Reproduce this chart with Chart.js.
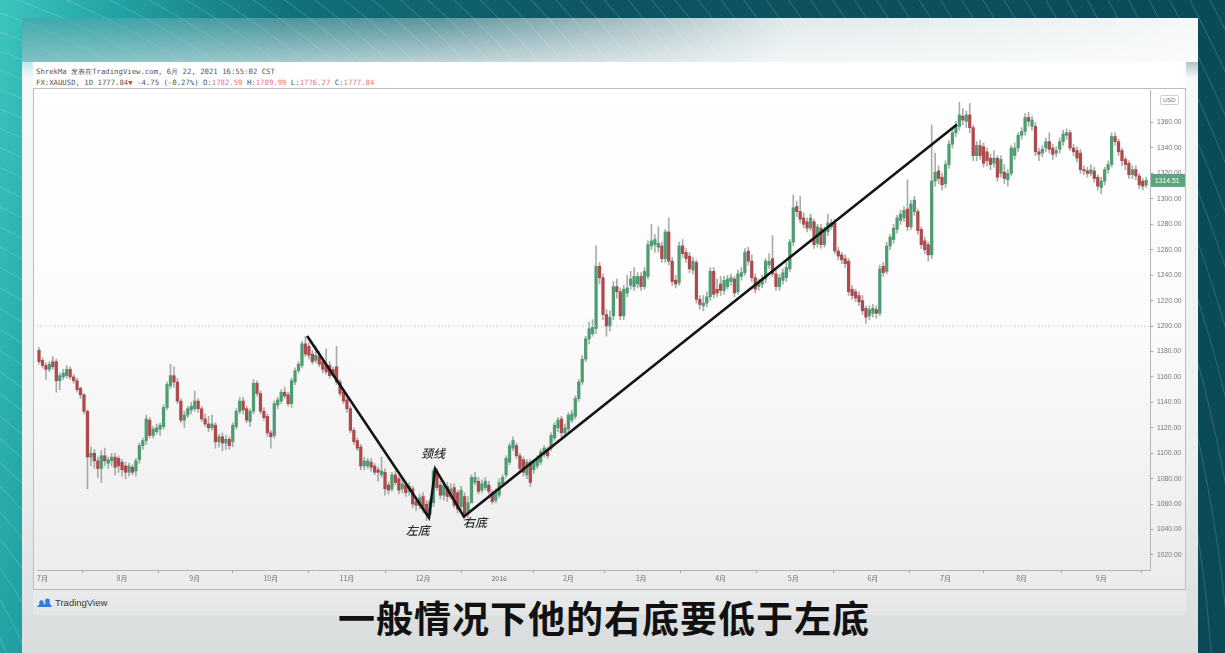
<!DOCTYPE html>
<html>
<head>
<meta charset="utf-8">
<title>XAUUSD 双底形态</title>
<style>
  html, body { margin: 0; padding: 0; }
  body {
    width: 1225px; height: 653px; overflow: hidden; position: relative;
    font-family: "Noto Sans CJK SC", "Noto Sans", sans-serif;
    background:
      repeating-radial-gradient(circle at -260px 760px, rgba(255,255,255,0) 0 16px, rgba(255,255,255,0.16) 17px, rgba(255,255,255,0) 18px),
      linear-gradient(100deg, #3cc5bf 0%, #22a2a4 9%, #11707a 22%, #0d5462 45%, #0b4956 100%);
  }
  #panel {
    position: absolute; left: 22px; top: 18px; width: 1176px; height: 640px;
    background: linear-gradient(to bottom, rgba(255,255,255,0.15) 0px, rgba(255,255,255,0.6) 40px, #f7f8f8 60px, #eef0f0 420px, #d9dcdc 640px);
  }
  #panelTop {
    position: absolute; left: 22px; top: 18px; width: 1176px; height: 44px;
    background: linear-gradient(90deg, rgba(20,120,130,0.35) 0%, rgba(255,255,255,0.2) 35%, rgba(255,255,255,0.85) 65%, rgba(255,255,255,0.95) 100%);
  }
  #widget {
    position: absolute; left: 33px; top: 62px; width: 1153px; height: 553px;
    background: linear-gradient(to bottom, #ffffff 0px, #fcfcfc 250px, #ececed 520px, #e4e6e6 553px);
  }
  .hdr {
    position: absolute; left: 3px; white-space: nowrap;
    font-family: "DejaVu Sans Mono", "Liberation Mono", monospace;
    font-size: 7.3px; line-height: 10px; color: #555;
  }
  #hdr1 { top: 5px; }
  #hdr2 { top: 16px; }
  .hdr .v { color: #e07580; }
  .hdr .dn { color: #e53935; }
  #pane {
    position: absolute; left: 0; top: 26px; width: 1153px; height: 502px;
    border: 1px solid #bdbdbd; box-sizing: border-box;
  }
  #chart { position: absolute; left: 0; top: 26px; }
  #usd {
    position: absolute; left: 1127px; top: 33px; padding: 0 2px;
    font-family: "Liberation Sans", sans-serif; font-size: 6px; line-height: 8px;
    color: #777; border: 1px solid #d0d0d0; border-radius: 2px; background: #fff;
  }
  #logo { position: absolute; left: 3px; top: 535px; height: 12px; white-space: nowrap; }
  #logo svg { position: absolute; left: 0; top: 1px; }
  #logo span {
    position: absolute; left: 19px; top: 0; font-family: "Liberation Sans", sans-serif;
    font-size: 9.5px; line-height: 12px; color: #3a3a3a;
  }
  #subtitle {
    position: absolute; left: 338px; top: 596px; white-space: nowrap;
    font-size: 37px; line-height: 42px; font-weight: bold; color: #111;
    letter-spacing: 1px;
  }
</style>
</head>
<body>
<div id="panel"></div>
<div id="panelTop"></div>
<div id="widget">
  <div class="hdr" id="hdr1">ShrekMa 发表在TradingView.com, 6月 22, 2021 16:55:02 CST</div>
  <div class="hdr" id="hdr2">FX:XAUUSD, 1D 1777.84<span class="dn">▼</span> -4.75 (-0.27%) O:<span class="v">1782.59</span> H:<span class="v">1789.99</span> L:<span class="v">1776.27</span> C:<span class="v">1777.84</span></div>
  <div id="pane"></div>
  <canvas id="chart" width="1153" height="502"></canvas>
  <div id="usd">USD</div>
  <div id="logo">
    <svg width="17" height="10" viewBox="0 0 17 10">
      <path d="M1 9 L5.5 3.5 L8.5 6.5 L11.5 1.5 L16 9 Z" fill="#2f7fe0"/>
      <circle cx="5.5" cy="4.5" r="2.2" fill="#2f7fe0"/>
      <circle cx="11.5" cy="3" r="2.4" fill="#2f7fe0"/>
    </svg>
    <span>TradingView</span>
  </div>
</div>
<div id="subtitle">一般情况下他的右底要低于左底</div>

<script src="https://cdn.jsdelivr.net/npm/chart.js"></script>
<script>
// daily XAUUSD candles, 2015-06-30 .. mid Sept 2016
const opens = [
  1181,1173,1169,1166,1172,1172,1157,1160,1161,1166,1160,1157,1151,1146,1133,1097,1100,1094,1088,1098,1092,1094,1097,
  1096,1093,1090,1085,1089,1086,1095,1106,1110,1126,1114,1117,1119,1121,1136,1153,1161,1156,1141,1126,1130,
  1134,1135,1141,1135,1127,1123,1120,1122,1109,1113,1108,1111,1109,1121,1133,1141,1135,1125,1133,1155,1147,1133,
  1129,1116,1114,1138,1141,1148,1146,1139,1156,1165,1169,1186,1184,1178,1173,1176,1172,1169,1169,1166,1168,1156,
  1148,1142,1135,1118,1110,1105,1090,1090,1093,1090,1087,1083,1085,1075,1072,1083,1080,1072,1075,1070,1072,1062,
  1059,1066,1060,1052,1061,1086,1075,1067,1074,1066,1073,1069,1058,1066,1053,1061,1077,1078,1071,1073,1075,1069,
  1063,1067,1076,1083,1093,1104,1106,1098,1095,1083,1093,1087,1090,1093,1099,1103,1104,1112,1120,1127,1116,
  1119,1126,1129,1143,1156,1174,1190,1194,1198,1247,1238,1209,1200,1208,1231,1227,1208,1226,1232,1231,1233,
  1239,1231,1239,1263,1264,1262,1263,1253,1274,1251,1236,1234,1263,1258,1255,1244,1250,1221,1216,1218,1223,1243,
  1229,1233,1228,1231,1235,1237,1227,1239,1242,1259,1251,1238,1231,1233,1237,1248,1253,1241,1231,1236,1238,1245,
  1266,1294,1290,1285,1282,1277,1282,1265,1277,1264,1274,1278,1281,1259,1256,1253,1251,1229,1227,1224,1220,1214,
  1208,1210,1213,1210,1247,1243,1263,1268,1276,1283,1285,1292,1278,1290,1290,1276,1267,1264,1256,1314,1322,
  1317,1312,1327,1343,1352,1357,1365,1361,1366,1356,1334,1342,1341,1337,1332,1328,1332,1320,1321,1315,
  1320,1334,1340,1350,1353,1364,1357,1357,1337,1336,1340,1345,1340,1336,1339,1345,1350,1352,1340,1338,
  1336,1323,1322,1320,1322,1317,1309,1314,1323,1327,1349,1345,1338,1331,1328,1319,1323,1318,1314,1311
];
const highs = [
  1183,1175,1171,1172,1176,1174,1163,1166,1169,1168,1162,1159,1152,1147,1134,1105,1103,1097,1102,1104,1097,1100,1100,
  1098,1095,1093,1092,1091,1096,1108,1112,1130,1128,1121,1123,1124,1138,1156,1170,1168,1159,1143,1133,1137,
  1140,1149,1143,1137,1131,1129,1130,1124,1115,1116,1114,1113,1124,1135,1144,1144,1137,1135,1158,1157,1149,1136,
  1131,1118,1141,1144,1150,1152,1148,1159,1167,1172,1188,1192,1187,1181,1184,1180,1174,1182,1172,1168,1184,1158,
  1150,1144,1137,1120,1112,1107,1097,1096,1096,1092,1089,1097,1088,1077,1085,1086,1082,1079,1077,1077,1074,1066,
  1068,1069,1063,1064,1088,1088,1078,1078,1077,1076,1076,1071,1074,1069,1066,1083,1085,1081,1079,1081,1078,1071,
  1072,1080,1083,1098,1108,1113,1108,1100,1097,1095,1095,1095,1098,1103,1106,1105,1116,1124,1128,1129,1123,
  1132,1134,1145,1158,1177,1192,1203,1205,1263,1250,1241,1213,1212,1235,1237,1230,1232,1240,1243,1246,1242,
  1242,1246,1267,1280,1272,1278,1266,1276,1285,1254,1240,1266,1268,1261,1258,1254,1252,1224,1224,1227,1246,1246,
  1237,1239,1239,1240,1241,1239,1244,1246,1261,1262,1256,1241,1237,1240,1253,1257,1271,1244,1241,1245,1250,1268,
  1303,1298,1302,1289,1285,1288,1284,1280,1280,1278,1288,1284,1284,1262,1258,1256,1253,1232,1229,1227,1224,1216,
  1216,1217,1216,1248,1250,1266,1272,1280,1287,1291,1294,1315,1299,1302,1292,1278,1270,1266,1358,1336,1326,
  1320,1330,1346,1355,1361,1376,1371,1369,1375,1358,1345,1346,1344,1340,1335,1338,1334,1334,1327,1323,
  1342,1344,1352,1356,1367,1368,1365,1360,1340,1342,1348,1352,1343,1341,1348,1354,1355,1354,1343,1341,
  1339,1326,1325,1327,1325,1319,1317,1325,1330,1352,1352,1347,1340,1333,1330,1326,1326,1320,1316,1317
];
const lows = [
  1170,1167,1158,1164,1166,1148,1150,1158,1159,1158,1155,1148,1143,1131,1072,1090,1088,1081,1077,1090,1088,1090,1083,
  1085,1082,1080,1082,1083,1082,1092,1103,1107,1112,1112,1115,1114,1119,1134,1151,1152,1139,1124,1120,1128,
  1131,1133,1132,1125,1121,1117,1118,1104,1105,1102,1103,1103,1105,1119,1131,1131,1124,1121,1131,1145,1131,1126,
  1113,1104,1112,1135,1139,1143,1137,1136,1154,1163,1167,1176,1174,1170,1171,1168,1163,1162,1159,1160,1154,1145,
  1139,1132,1116,1107,1102,1087,1087,1088,1086,1083,1078,1081,1067,1068,1070,1075,1068,1069,1066,1067,1057,1055,
  1056,1053,1047,1050,1058,1071,1064,1063,1062,1064,1057,1053,1055,1047,1049,1061,1075,1068,1069,1071,1068,1060,
  1061,1065,1074,1081,1091,1102,1096,1086,1082,1080,1074,1084,1088,1091,1097,1096,1102,1110,1117,1113,1113,
  1117,1124,1127,1141,1154,1172,1186,1192,1194,1233,1205,1192,1196,1205,1222,1205,1205,1223,1229,1228,1230,
  1228,1229,1237,1260,1258,1258,1250,1250,1248,1232,1230,1232,1254,1250,1242,1241,1218,1213,1212,1215,1220,1222,
  1223,1224,1225,1229,1232,1223,1225,1236,1240,1248,1235,1226,1228,1230,1234,1245,1239,1228,1228,1233,1235,1243,
  1263,1286,1281,1277,1274,1275,1261,1262,1261,1262,1271,1276,1257,1252,1249,1246,1224,1221,1219,1216,1209,1202,
  1205,1207,1206,1208,1239,1241,1260,1265,1273,1280,1282,1275,1276,1287,1272,1261,1257,1251,1253,1310,1312,
  1307,1309,1324,1340,1349,1354,1358,1356,1352,1330,1330,1331,1325,1326,1323,1325,1314,1317,1312,1310,
  1318,1331,1337,1347,1350,1357,1354,1334,1330,1333,1337,1336,1331,1333,1336,1342,1347,1338,1334,1329,
  1320,1319,1317,1318,1313,1307,1304,1311,1320,1325,1342,1334,1326,1323,1316,1316,1315,1308,1307,1309
];
const closes = [
  1172,1169,1166,1170,1168,1157,1161,1163,1166,1160,1157,1150,1146,1133,1097,1100,1094,1088,1098,1094,1095,1097,1089,
  1090,1087,1085,1090,1085,1094,1106,1110,1127,1114,1119,1120,1122,1136,1154,1161,1156,1141,1126,1130,1135,
  1137,1141,1135,1127,1123,1120,1123,1109,1113,1108,1111,1106,1122,1133,1141,1134,1126,1133,1155,1147,1133,1128,
  1116,1113,1139,1142,1148,1145,1139,1157,1165,1170,1186,1178,1177,1172,1177,1170,1166,1164,1161,1162,1156,1147,
  1141,1135,1118,1109,1104,1090,1094,1094,1089,1085,1085,1086,1072,1071,1083,1077,1071,1076,1069,1074,1060,1059,
  1065,1056,1052,1062,1086,1073,1067,1075,1066,1072,1059,1056,1071,1051,1061,1081,1081,1070,1076,1078,1070,1062,
  1069,1077,1081,1096,1106,1110,1098,1088,1085,1093,1077,1093,1096,1101,1104,1098,1114,1122,1126,1116,1120,
  1130,1131,1143,1156,1174,1190,1198,1199,1247,1238,1209,1200,1207,1231,1227,1208,1229,1230,1237,1239,1239,
  1231,1243,1264,1267,1268,1265,1253,1274,1251,1235,1233,1263,1257,1253,1245,1251,1221,1217,1218,1223,1243,1225,
  1226,1228,1236,1237,1238,1226,1241,1242,1258,1251,1238,1229,1234,1237,1251,1251,1241,1231,1238,1242,1246,1266,
  1293,1290,1284,1280,1277,1285,1264,1278,1264,1276,1281,1281,1259,1255,1252,1249,1227,1224,1222,1219,1212,1207,
  1213,1214,1210,1245,1242,1263,1270,1277,1285,1288,1291,1278,1296,1299,1275,1264,1260,1256,1314,1321,1316,
  1311,1327,1343,1352,1357,1366,1362,1366,1356,1334,1342,1334,1328,1330,1327,1332,1317,1331,1316,1320,
  1340,1340,1350,1353,1364,1361,1362,1337,1335,1339,1345,1339,1335,1338,1345,1351,1352,1340,1337,1332,
  1323,1322,1320,1323,1316,1310,1314,1323,1327,1349,1345,1337,1330,1327,1319,1323,1318,1311,1310,1314.51
];

// time axis: bar index of the first bar of each month
const monthTickBars   = [1, 24, 45, 67, 89, 111, 133, 153, 174, 197, 218, 241, 262, 284, 307];
const monthTickLabels = ['7月','8月','9月','10月','11月','12月','2016','2月','3月','4月','5月','6月','7月','8月','9月'];
const priceTicks = [1020,1040,1060,1080,1100,1120,1140,1160,1180,1200,1220,1240,1260,1280,1300,1320,1340,1360];

// hand-drawn double bottom: top, left bottom, neckline, right bottom, end of rise
const patternBars   = [77.5, 112.7, 114.5, 122.8, 265.3];
const patternPrices = [1192.2, 1049.4, 1087.8, 1050.2, 1358.4];
const levelPrice = 1200;

const noteTexts  = ['颈线', '左底', '右底'];
const noteBars   = [113.9, 109.5, 126.0];
const notePrices = [1099.6, 1039.2, 1045.5];

const UP = '#4f9c72';
const DOWN = '#ad4a4d';
const WICK = 'rgba(150,160,156,0.85)';
const X_MIN = -0.58, X_MAX = 321.1;
const Y_MIN = 1008.2, Y_MAX = 1385.6;

const n = closes.length;
const bodies = [], wicks = [], bodyColors = [];
for (let i = 0; i < n; i++) {
  bodies.push({ x: i, y: [opens[i], closes[i]] });
  wicks.push({ x: i, y: [lows[i], highs[i]] });
  bodyColors.push(closes[i] >= opens[i] ? UP : DOWN);
}

const overlay = {
  id: 'overlay',
  afterDatasetsDraw(chart) {
    const { ctx, chartArea, scales: { x, y } } = chart;
    ctx.save();
    // pattern labels
    ctx.fillStyle = '#2b2b2b';
    ctx.font = "italic 500 12px 'Noto Sans CJK SC'";
    ctx.textAlign = 'center';
    ctx.textBaseline = 'middle';
    for (let i = 0; i < noteTexts.length; i++) {
      ctx.fillText(noteTexts[i], x.getPixelForValue(noteBars[i]), y.getPixelForValue(notePrices[i]));
    }
    // last price tag on the price axis
    const last = closes[n - 1];
    const py = y.getPixelForValue(last);
    ctx.fillStyle = '#5aa67c';
    ctx.fillRect(chartArea.right + 1, py - 6.5, chart.width - chartArea.right - 2, 13);
    ctx.fillStyle = '#ffffff';
    ctx.font = "6.8px 'Liberation Sans'";
    ctx.textAlign = 'left';
    ctx.fillText(last.toFixed(2), chartArea.right + 5, py + 0.5);
    ctx.restore();
  }
};

new Chart(document.getElementById('chart'), {
  type: 'bar',
  data: {
    datasets: [
      {
        type: 'line', label: 'pattern',
        data: patternBars.map((b, i) => ({ x: b, y: patternPrices[i] })),
        borderColor: '#141414', borderWidth: 2.6, pointRadius: 0, order: 0
      },
      {
        type: 'line', label: 'level',
        data: [{ x: X_MIN, y: levelPrice }, { x: X_MAX, y: levelPrice }],
        borderColor: '#c2c2c2', borderWidth: 1, borderDash: [1, 2], pointRadius: 0, order: 1
      },
      {
        label: 'body', data: bodies, backgroundColor: bodyColors,
        barThickness: 2.6, minBarLength: 1, grouped: false, order: 2
      },
      {
        label: 'wick', data: wicks, backgroundColor: WICK,
        barThickness: 1, grouped: false, order: 3
      }
    ]
  },
  options: {
    responsive: false,
    animation: false,
    devicePixelRatio: 1,
    layout: { padding: { left: 4, top: 2, right: 0, bottom: 0 } },
    plugins: { legend: { display: false }, tooltip: { enabled: false } },
    scales: {
      x: {
        type: 'linear', min: X_MIN, max: X_MAX, offset: false,
        afterFit: s => { s.height = 20; s.paddingLeft = 0; s.paddingRight = 0; },
        afterBuildTicks: s => { s.ticks = monthTickBars.map(v => ({ value: v })); },
        ticks: {
          autoSkip: false, maxRotation: 0, padding: 1,
          color: '#707070', font: { size: 7, family: "'Noto Sans CJK SC'" },
          callback: (v, i) => monthTickLabels[i]
        },
        grid: { drawOnChartArea: false, tickLength: 3, color: '#a0a0a0' },
        border: { color: '#b5b5b5' }
      },
      y: {
        position: 'right', min: Y_MIN, max: Y_MAX,
        afterFit: s => { s.width = 36; s.paddingTop = 0; s.paddingBottom = 0; },
        afterBuildTicks: s => { s.ticks = priceTicks.map(v => ({ value: v })); },
        ticks: {
          padding: 4, color: '#767676',
          font: { size: 6.8, family: "'Liberation Sans'" },
          callback: v => Number(v).toFixed(2)
        },
        grid: { drawOnChartArea: false, tickLength: 3, color: '#a0a0a0' },
        border: { color: '#b5b5b5' }
      }
    }
  },
  plugins: [overlay]
});
</script>
</body>
</html>
